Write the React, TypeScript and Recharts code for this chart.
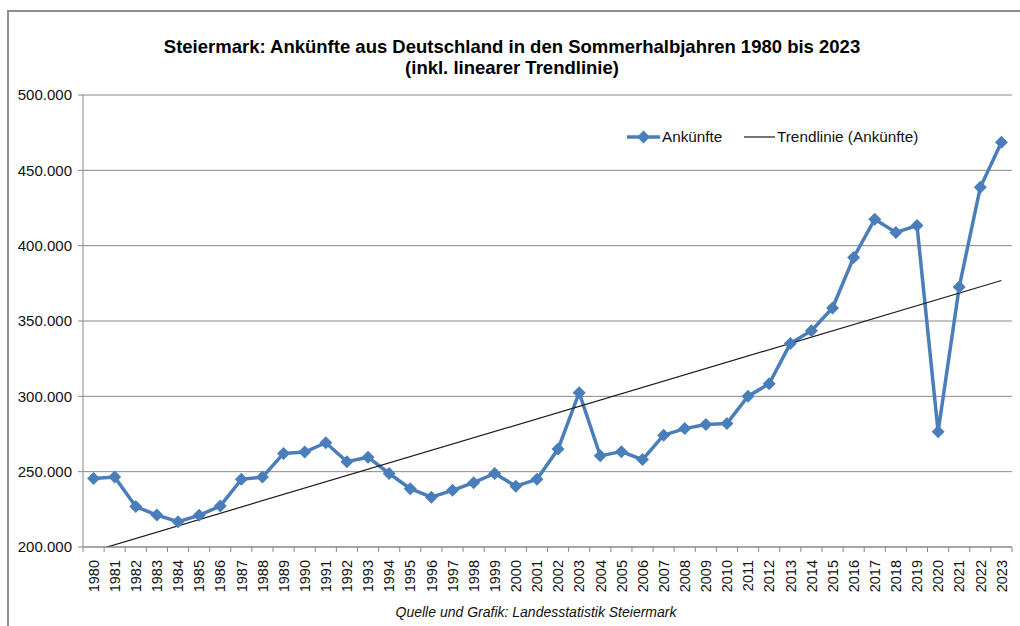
import React from 'react';
import { LineChart, Line, XAxis, YAxis, CartesianGrid } from 'recharts';

const years = [
  1980, 1981, 1982, 1983, 1984, 1985, 1986, 1987, 1988, 1989,
  1990, 1991, 1992, 1993, 1994, 1995, 1996, 1997, 1998, 1999,
  2000, 2001, 2002, 2003, 2004, 2005, 2006, 2007, 2008, 2009,
  2010, 2011, 2012, 2013, 2014, 2015, 2016, 2017, 2018, 2019,
  2020, 2021, 2022, 2023,
];

const ankuenfte = [
  245500, 246400, 226800, 221200, 216800, 221000, 227200, 244900, 246400, 262100,
  263000, 269200, 256600, 259600, 248800, 238700, 233100, 237600, 242700, 248800,
  240400, 244900, 265000, 302400, 260500, 263300, 258000, 274200, 278600, 281300,
  281900, 300100, 308300, 335000, 343600, 358600, 392200, 417600, 408800, 413400,
  276500, 372600, 438800, 468600,
];

// linear trend line endpoints, drawn between 1980 and 2023
const trendStart = 197300;
const trendEnd = 376900;

const yTicks = [200000, 250000, 300000, 350000, 400000, 450000, 500000];

const tickMarks = [...years.map((y) => y - 0.5), years[years.length - 1] + 0.5];

const data = years.map((year, i) => ({
  year,
  ank: ankuenfte[i],
  trend: i === 0 ? trendStart : i === years.length - 1 ? trendEnd : null,
}));

const BLUE = '#4a7ebb';
const GRID = '#898989';
const FONT = '"Liberation Sans", Arial, sans-serif';

const fmt = (v: number) => `${Math.round(v / 1000)}.000`;

const Diamond = (props: any) => {
  const { cx, cy, index } = props;
  if (cx == null || cy == null) return <g key={index} />;
  const r = 6.5;
  return (
    <path
      key={index}
      d={`M${cx},${cy - r}L${cx + r},${cy}L${cx},${cy + r}L${cx - r},${cy}Z`}
      fill={BLUE}
      stroke="none"
    />
  );
};

const YearTick = (props: any) => {
  const { x, y, payload } = props;
  return (
    <text
      x={x}
      y={y + 10}
      transform={`rotate(-90, ${x}, ${y + 10})`}
      textAnchor="end"
      dy="0.36em"
      fontSize={14.5}
      fill="#111"
      fontFamily={FONT}
    >
      {payload.value}
    </text>
  );
};

const EmptyTick = () => <g />;

export default function App() {
  return (
    <div
      style={{
        position: 'relative',
        width: 1020,
        height: 626,
        overflow: 'hidden',
        background: '#fff',
        fontFamily: FONT,
      }}
    >
      <style>{`html,body{margin:0;padding:0;overflow:hidden;}`}</style>
      <div
        style={{
          position: 'absolute',
          left: 4,
          top: 36,
          width: 1016,
          textAlign: 'center',
          fontWeight: 'bold',
          fontSize: 18.5,
          lineHeight: '21px',
          color: '#000',
        }}
      >
        Steiermark: Ankünfte aus Deutschland in den Sommerhalbjahren 1980 bis 2023
        <br />
        (inkl. linearer Trendlinie)
      </div>
      <div style={{ position: 'absolute', left: 0, top: 0 }}>
        <LineChart
          width={1020}
          height={626}
          data={data}
          margin={{ top: 95, right: 8, bottom: 0, left: 0 }}
        >
          <CartesianGrid vertical={false} horizontal stroke={GRID} strokeWidth={1} />
          <XAxis
            xAxisId="a"
            type="number"
            dataKey="year"
            domain={[1979.5, 2023.5]}
            ticks={tickMarks}
            interval={0}
            allowDataOverflow
            height={1}
            tickSize={5}
            tick={EmptyTick}
            stroke={GRID}
            axisLine={{ stroke: GRID }}
            tickLine={{ stroke: GRID }}
          />
          <XAxis
            xAxisId="b"
            type="number"
            dataKey="year"
            domain={[1979.5, 2023.5]}
            ticks={years}
            interval={0}
            allowDataOverflow
            height={78}
            axisLine={false}
            tickLine={false}
            tickSize={0}
            tick={YearTick}
          />
          <YAxis
            type="number"
            domain={[200000, 500000]}
            ticks={yTicks}
            interval={0}
            allowDataOverflow
            width={83}
            tickSize={5}
            tickMargin={6}
            tickFormatter={fmt}
            axisLine={{ stroke: GRID }}
            tickLine={{ stroke: GRID }}
            tick={{ fontSize: 15, fill: '#111', fontFamily: FONT }}
          />
          <Line
            xAxisId="b"
            dataKey="ank"
            stroke={BLUE}
            strokeWidth={3.5}
            dot={Diamond}
            activeDot={false}
            isAnimationActive={false}
          />
          <Line
            xAxisId="a"
            dataKey="trend"
            stroke="#1a1a1a"
            strokeWidth={1.2}
            dot={false}
            activeDot={false}
            connectNulls
            isAnimationActive={false}
          />
        </LineChart>
      </div>
      <svg
        style={{ position: 'absolute', left: 0, top: 0 }}
        width={1020}
        height={626}
        pointerEvents="none"
      >
        <line x1={8} y1={11} x2={1020} y2={11} stroke="#8f8f8f" strokeWidth={2} />
        <line x1={8} y1={10} x2={8} y2={626} stroke="#8f8f8f" strokeWidth={2} />
        <line x1={627} y1={137} x2={660} y2={137} stroke={BLUE} strokeWidth={3.5} />
        <path d="M643.5,130.5L650,137L643.5,143.5L637,137Z" fill={BLUE} />
        <text x={662} y={137} dy="0.35em" fontSize={15.3} fill="#111" fontFamily={FONT}>
          Ankünfte
        </text>
        <line x1={744} y1={137} x2={775} y2={137} stroke="#1a1a1a" strokeWidth={1.2} />
        <text x={777} y={137} dy="0.35em" fontSize={15.3} fill="#111" fontFamily={FONT}>
          Trendlinie (Ankünfte)
        </text>
        <text
          x={536}
          y={612}
          dy="0.35em"
          textAnchor="middle"
          fontSize={14}
          fontStyle="italic"
          fill="#111"
          fontFamily={FONT}
        >
          Quelle und Grafik: Landesstatistik Steiermark
        </text>
      </svg>
    </div>
  );
}
